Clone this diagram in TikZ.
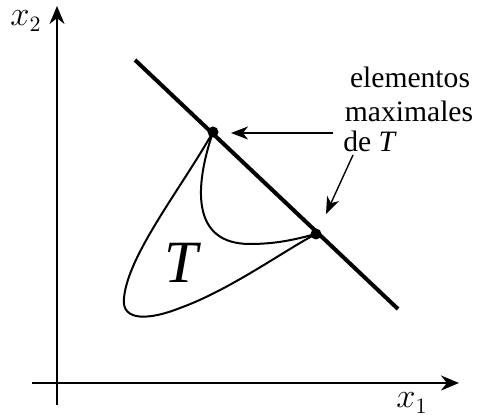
\documentclass[tikz,border=0pt]{standalone}
\usepackage{fontspec}
\setmainfont{Liberation Serif}
\usetikzlibrary{arrows.meta}
\begin{document}
\begin{tikzpicture}[x=0.5pt,y=-0.5pt,
  axis/.style={line width=1.2pt,-{Stealth[length=9pt,width=7.5pt]}},
  callout/.style={line width=0.7pt,-{Stealth[length=8.5pt,width=6.5pt,inset=2.5pt]}},
  curve/.style={line width=1pt},
  dot/.style={circle,fill=black,inner sep=0pt,minimum size=5.5pt},
  lbl/.style={font=\fontsize{14.8}{17}\selectfont,inner sep=0pt}]
\useasboundingbox (0,0) rectangle (477,415);
% axes
\coordinate (ybot) at (57,405);
\coordinate (ytop) at (57,6);
\coordinate (xleft) at (32,383);
\coordinate (xright) at (459,383);
\draw[axis] (ybot) -- (ytop);
\draw[axis] (xleft) -- (xright);
\node[inner sep=0pt,font=\fontsize{16}{18}\selectfont] (x2) at (26,21) {$x_2$};
\node[inner sep=0pt,font=\fontsize{16}{18}\selectfont] (x1) at (412,403) {$x_1$};
% line
\coordinate (la) at (135,60);
\coordinate (lb) at (398,309);
\draw[line width=2pt] (la) -- (lb);
% points
\node[dot] (p1) at (213,132) {};
\node[dot] (p2) at (316,234) {};
% set T
\draw[curve] (p1.center) .. controls (180,190) and (128,255) .. (124,298)
  .. controls (121,322) and (150,320) .. (180,308)
  .. controls (230,290) and (285,250) .. (p2.center);
\draw[curve] (p1.center) .. controls (195,185) and (190,244) .. (250,244)
  .. controls (280,244) and (300,238) .. (p2.center);
\node[inner sep=0pt,font=\fontsize{30}{32}\selectfont\itshape] (T) at (181,263) {T};
% labels
\node[lbl,anchor=base] (l1) at (410,88) {elementos};
\node[lbl,anchor=base] (l2) at (409,122) {maximales};
\node[lbl,anchor=base west] (l3) at (343,152) {de \textit{T}};
\coordinate (a1s) at (333,133);
\coordinate (a1e) at (231,133);
\coordinate (a2s) at (353,155);
\coordinate (a2e) at (326,214);
\draw[callout] (a1s) -- (a1e);
\draw[callout] (a2s) -- (a2e);
\end{tikzpicture}
\end{document}
